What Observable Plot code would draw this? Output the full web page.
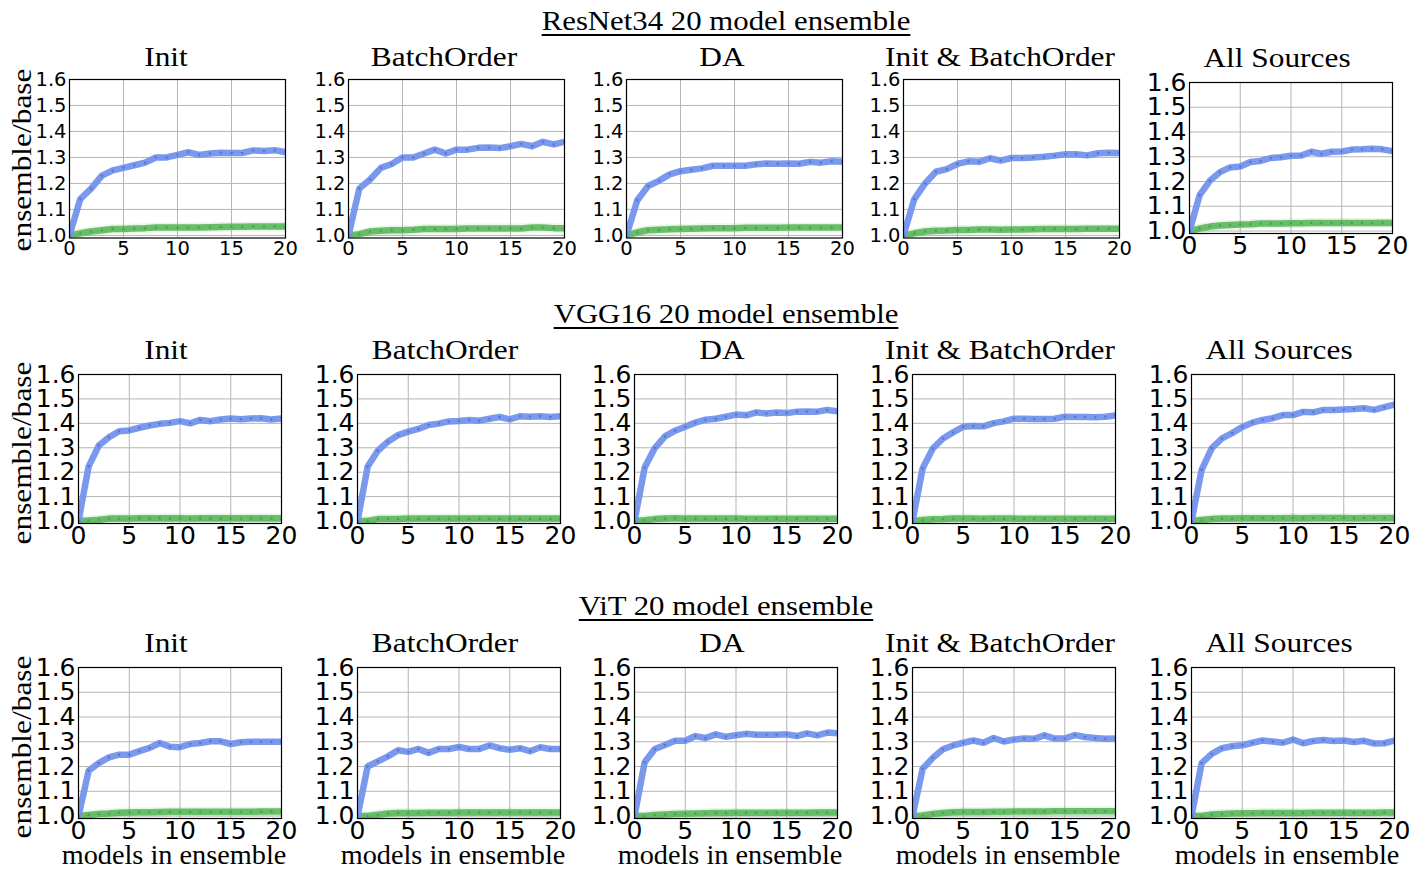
<!DOCTYPE html>
<html><head><meta charset="utf-8">
<script src="https://cdn.jsdelivr.net/npm/d3@7"></script>
<script src="https://cdn.jsdelivr.net/npm/@observablehq/plot@0.6"></script>
<style>
html,body{margin:0;padding:0;background:#fff;}
#root{position:relative;width:1423px;height:871px;overflow:hidden;background:#fff;}
.t{position:absolute;font-family:"Liberation Serif",serif;color:#000;white-space:nowrap;line-height:0.75;}
.u{text-decoration:underline;text-decoration-thickness:1.6px;text-underline-offset:4px;}
#root svg{position:absolute;overflow:visible;}
</style></head><body><div id="root"></div>
<script>
// ---------- data ----------
const models = [0,1,2,3,4,5,6,7,8,9,10,11,12,13,14,15,16,17,18,19,20];
const rowTitles = ["ResNet34 20 model ensemble","VGG16 20 model ensemble","ViT 20 model ensemble"];
const panelTitles = ["Init","BatchOrder","DA","Init & BatchOrder","All Sources"];
const yLabel = "ensemble/base";
const xLabel = "models in ensemble";
const yTicks = [1.0,1.1,1.2,1.3,1.4,1.5,1.6];
const xTicks = [0,5,10,15,20];

const resnet_init_blue  = [1.0,1.14,1.18,1.23,1.25,1.26,1.27,1.28,1.30,1.30,1.31,1.32,1.31,1.315,1.318,1.317,1.317,1.327,1.325,1.328,1.32];
const resnet_init_green = [1.0,1.008,1.015,1.02,1.025,1.025,1.027,1.028,1.03,1.03,1.03,1.03,1.03,1.031,1.032,1.033,1.033,1.034,1.034,1.034,1.034];
const resnet_bo_blue    = [1.0,1.18,1.215,1.26,1.275,1.30,1.30,1.315,1.33,1.315,1.33,1.33,1.337,1.338,1.336,1.343,1.352,1.343,1.36,1.35,1.36];
const resnet_bo_green   = [1.0,1.005,1.015,1.018,1.02,1.02,1.022,1.025,1.025,1.025,1.025,1.027,1.027,1.027,1.027,1.027,1.027,1.03,1.03,1.028,1.028];
const resnet_da_blue    = [1.0,1.135,1.19,1.21,1.235,1.247,1.253,1.258,1.268,1.268,1.268,1.268,1.274,1.277,1.276,1.277,1.276,1.283,1.28,1.285,1.283];
const resnet_da_green   = [1.0,1.012,1.02,1.022,1.024,1.025,1.026,1.027,1.028,1.028,1.028,1.029,1.029,1.029,1.029,1.03,1.03,1.03,1.03,1.03,1.03];
const resnet_ib_blue    = [1.0,1.14,1.20,1.245,1.255,1.275,1.285,1.283,1.297,1.288,1.298,1.298,1.30,1.303,1.307,1.312,1.312,1.308,1.316,1.318,1.317];
const resnet_ib_green   = [1.0,1.008,1.015,1.018,1.019,1.021,1.021,1.023,1.023,1.022,1.023,1.023,1.024,1.025,1.025,1.025,1.025,1.026,1.026,1.026,1.026];
const resnet_all_blue   = [1.0,1.145,1.203,1.238,1.257,1.261,1.279,1.283,1.295,1.298,1.304,1.305,1.32,1.312,1.32,1.321,1.329,1.33,1.332,1.33,1.323];
const resnet_all_green  = [1.0,1.01,1.018,1.022,1.024,1.026,1.027,1.03,1.03,1.03,1.031,1.031,1.032,1.032,1.032,1.032,1.032,1.032,1.032,1.033,1.032];

const vgg_init_blue  = [1.0,1.224,1.309,1.343,1.368,1.371,1.382,1.391,1.398,1.402,1.409,1.40,1.414,1.409,1.416,1.42,1.417,1.42,1.421,1.416,1.42];
const vgg_init_green = [1.0,1.002,1.005,1.01,1.01,1.01,1.012,1.011,1.012,1.011,1.011,1.01,1.011,1.011,1.011,1.011,1.011,1.011,1.011,1.011,1.011];
const vgg_bo_blue    = [1.0,1.223,1.288,1.325,1.352,1.366,1.377,1.393,1.399,1.408,1.41,1.414,1.411,1.419,1.426,1.416,1.429,1.427,1.429,1.426,1.429];
const vgg_bo_green   = [1.0,1.0,1.008,1.008,1.008,1.01,1.01,1.01,1.01,1.01,1.01,1.01,1.01,1.01,1.01,1.01,1.01,1.01,1.01,1.01,1.01];
const vgg_da_blue    = [1.0,1.219,1.299,1.347,1.37,1.386,1.403,1.415,1.419,1.427,1.436,1.433,1.445,1.44,1.444,1.442,1.448,1.449,1.448,1.455,1.449];
const vgg_da_green   = [1.0,1.003,1.008,1.01,1.012,1.01,1.01,1.01,1.01,1.01,1.01,1.009,1.009,1.009,1.009,1.009,1.009,1.009,1.009,1.009,1.009];
const vgg_ib_blue    = [1.0,1.216,1.297,1.338,1.363,1.386,1.389,1.388,1.401,1.408,1.419,1.419,1.418,1.418,1.419,1.427,1.426,1.426,1.425,1.427,1.432];
const vgg_ib_green   = [1.0,1.004,1.007,1.008,1.01,1.01,1.01,1.009,1.01,1.01,1.01,1.009,1.009,1.009,1.009,1.009,1.009,1.009,1.009,1.009,1.009];
const vgg_all_blue   = [1.0,1.21,1.299,1.338,1.36,1.385,1.403,1.414,1.421,1.434,1.434,1.447,1.445,1.455,1.455,1.457,1.459,1.462,1.455,1.466,1.477];
const vgg_all_green  = [1.0,1.004,1.008,1.01,1.01,1.011,1.012,1.012,1.012,1.012,1.013,1.012,1.013,1.013,1.013,1.013,1.012,1.013,1.013,1.013,1.013];

const vit_init_blue  = [1.0,1.183,1.214,1.237,1.248,1.248,1.262,1.275,1.295,1.28,1.278,1.291,1.295,1.302,1.302,1.291,1.298,1.30,1.30,1.30,1.30];
const vit_init_green = [1.0,1.004,1.008,1.01,1.013,1.014,1.015,1.015,1.016,1.017,1.017,1.017,1.017,1.017,1.017,1.017,1.017,1.017,1.018,1.018,1.018];
const vit_bo_blue    = [1.0,1.2,1.221,1.241,1.266,1.259,1.271,1.255,1.271,1.271,1.279,1.271,1.271,1.285,1.274,1.268,1.274,1.262,1.278,1.271,1.271];
const vit_bo_green   = [1.0,1.0,1.005,1.01,1.012,1.012,1.012,1.013,1.013,1.013,1.014,1.014,1.014,1.014,1.014,1.014,1.014,1.014,1.014,1.014,1.014];
const vit_da_blue    = [1.0,1.217,1.271,1.287,1.304,1.304,1.323,1.315,1.33,1.32,1.326,1.332,1.328,1.328,1.328,1.33,1.323,1.334,1.326,1.337,1.334];
const vit_da_green   = [1.0,1.0,1.004,1.006,1.008,1.009,1.01,1.011,1.012,1.012,1.013,1.013,1.013,1.013,1.013,1.013,1.013,1.013,1.014,1.014,1.014];
const vit_ib_blue    = [1.0,1.191,1.235,1.27,1.285,1.296,1.305,1.296,1.315,1.301,1.309,1.313,1.312,1.326,1.313,1.313,1.327,1.319,1.315,1.312,1.313];
const vit_ib_green   = [1.0,1.002,1.008,1.012,1.015,1.016,1.016,1.016,1.017,1.017,1.018,1.018,1.018,1.018,1.019,1.019,1.019,1.019,1.019,1.019,1.019];
const vit_all_blue   = [1.0,1.214,1.251,1.274,1.282,1.286,1.296,1.305,1.301,1.296,1.309,1.294,1.303,1.307,1.303,1.305,1.299,1.304,1.293,1.294,1.305];
const vit_all_green  = [1.0,1.0,1.006,1.008,1.01,1.011,1.011,1.012,1.012,1.012,1.012,1.012,1.013,1.013,1.013,1.013,1.013,1.013,1.013,1.014,1.014];

const blueSeries = [
  [resnet_init_blue, resnet_bo_blue, resnet_da_blue, resnet_ib_blue, resnet_all_blue],
  [vgg_init_blue, vgg_bo_blue, vgg_da_blue, vgg_ib_blue, vgg_all_blue],
  [vit_init_blue, vit_bo_blue, vit_da_blue, vit_ib_blue, vit_all_blue]
];
const greenSeries = [
  [resnet_init_green, resnet_bo_green, resnet_da_green, resnet_ib_green, resnet_all_green],
  [vgg_init_green, vgg_bo_green, vgg_da_green, vgg_ib_green, vgg_all_green],
  [vit_init_green, vit_bo_green, vit_da_green, vit_ib_green, vit_all_green]
];

// ---------- layout ----------
const root = document.getElementById("root");
const BLUE = "#7393ec", GREEN = "#5cb85c";
const SERIF = 28;
const LH = 0.75;
const BASE = (LH - 1.107) / 2 + 0.891; // baseline offset (em) inside a line box

function addText(txt, cx, baseline, size, sx, cls) {
  const d = document.createElement("div");
  d.className = "t " + (cls || "");
  d.textContent = txt;
  d.style.fontSize = size + "px";
  d.style.left = cx + "px";
  d.style.top = (baseline - BASE * size) + "px";
  d.style.transform = `translateX(-50%) scaleX(${sx})`;
  root.appendChild(d);
}
function addVText(txt, cx, cy, size, sx) {
  const d = document.createElement("div");
  d.className = "t";
  d.textContent = txt;
  d.style.fontSize = size + "px";
  d.style.left = cx + "px";
  d.style.top = cy + "px";
  d.style.transform = `translate(-50%,-50%) rotate(-90deg) scaleX(${sx})`;
  root.appendChild(d);
}

function panel(x0, top, w, h, fs, blue, green) {
  const ML = 60, MR = 20, MT = 10, MB = 36;
  const data = models.map((m, i) => ({m, b: blue[i], g: green[i]}));
  const chart = Plot.plot({
    width: w + ML + MR, height: h + MT + MB,
    marginLeft: ML, marginRight: MR, marginTop: MT, marginBottom: MB,
    style: {fontFamily: '"DejaVu Sans", sans-serif', fontSize: fs + "px", background: "transparent", color: "#000", overflow: "visible"},
    x: {domain: [0, 20], ticks: xTicks, tickSize: 0, tickPadding: 3, label: null, tickFormat: d => String(d)},
    y: {domain: [0.99, 1.6], ticks: yTicks, tickSize: 0, tickPadding: 3, label: null, tickFormat: d => d.toFixed(1)},
    marks: [
      Plot.gridX(xTicks.filter(v => v > 0 && v < 20), {stroke: "#b5b5b5", strokeOpacity: 1, strokeWidth: 1}),
      Plot.gridY(yTicks.filter(v => v < 1.6), {stroke: "#b5b5b5", strokeOpacity: 1, strokeWidth: 1}),
      Plot.line(data, {x: "m", y: "g", stroke: GREEN, strokeWidth: 10, strokeOpacity: 0.12, clip: true}),
      Plot.line(data, {x: "m", y: "g", stroke: GREEN, strokeWidth: 6.5, strokeOpacity: 0.92, clip: true}),
      Plot.line(data, {x: "m", y: "b", stroke: BLUE, strokeWidth: 6.5, strokeOpacity: 0.95, clip: true}),
      Plot.dot(data, {x: "m", y: "g", symbol: "triangle", r: 1.3, fill: "#3a8f3a", fillOpacity: 0.6, clip: true}),
      Plot.dot(data, {x: "m", y: "b", symbol: "triangle", r: 1.3, rotate: 180, fill: "#3f5fc8", fillOpacity: 0.6, clip: true}),
      Plot.frame({stroke: "#000", strokeWidth: 1.2})
    ]
  });
  chart.style.left = (x0 - ML) + "px";
  chart.style.top = (top - MT) + "px";
  root.appendChild(chart);
}

// row geometry
const rows = [
  {xs: [69, 347.5, 625.5, 903, 1189], ws: [216, 216, 216, 216, 203], tops: [79, 79, 79, 79, 82], bots: [237.5, 237.5, 237.5, 237.5, 233], fss: [19.5, 19.5, 19.5, 19.5, 25], titleOff: [-11.5, -11.5, -11.5, -11.5, -13.5], titleY: 30, panelY: 66, yLabY: 160},
  {xs: [78, 357, 634, 912, 1191], ws: [203, 203, 203, 203, 203], tops: [374, 374, 374, 374, 374], bots: [523, 523, 523, 523, 523], fss: [25, 25, 25, 25, 25], titleOff: [-13.5, -13.5, -13.5, -13.5, -13.5], titleY: 323, panelY: 359, yLabY: 453},
  {xs: [78, 357, 634, 912, 1191], ws: [203, 203, 203, 203, 203], tops: [667, 667, 667, 667, 667], bots: [818, 818, 818, 818, 818], fss: [25, 25, 25, 25, 25], titleOff: [-13.5, -13.5, -13.5, -13.5, -13.5], titleY: 615, panelY: 652, yLabY: 747}
];

rows.forEach((r, ri) => {
  addText(rowTitles[ri], 726, r.titleY, SERIF, 1.10, "u");
  addVText(yLabel, 21, r.yLabY, SERIF, 1.12);
  for (let c = 0; c < 5; c++) {
    const w = r.ws[c], h = r.bots[c] - r.tops[c];
    panel(r.xs[c], r.tops[c], w, h, r.fss[c], blueSeries[ri][c], greenSeries[ri][c]);
    addText(panelTitles[c], r.xs[c] + w / 2 + r.titleOff[c], r.panelY + (c === 4 && ri === 0 ? 1 : 0), SERIF, 1.12);
    if (ri === 2) addText(xLabel, r.xs[c] + w / 2 - 6, 864, SERIF, 1.01);
  }
});
</script>
</body></html>
